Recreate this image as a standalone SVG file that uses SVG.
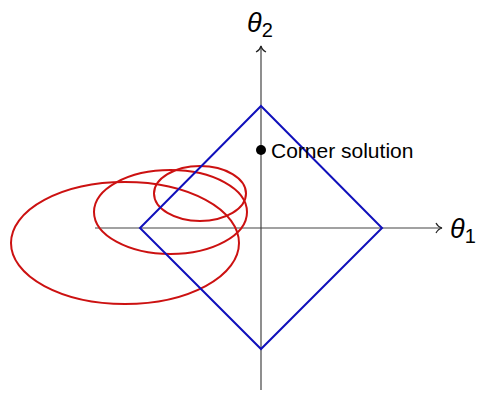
<svg xmlns="http://www.w3.org/2000/svg" width="477" height="393" viewBox="0 0 477 393">
<style>
.ax{stroke:#444;stroke-width:1.2;fill:none}
.ah{stroke:#222;stroke-width:1.2;fill:none}
.el{stroke:#cc1111;stroke-width:2;fill:none}
.dm{stroke:#1010bb;stroke-width:2;fill:none}
text{font-family:"Liberation Sans",Arial,sans-serif;fill:#000}
</style>
<rect width="477" height="393" fill="#fff"/>
<g id="connectors">
<line class="ax" x1="95" y1="228" x2="442" y2="228"/>
<path class="ah" d="M436,223 Q438,227 442,228 Q438,229 436,233"/>
<line class="ax" x1="261" y1="390" x2="261" y2="46"/>
<path class="ah" d="M256,52 Q260,50 261,46 Q262,50 266,52"/>
</g>
<g id="ellipses">
<ellipse class="el" cx="125" cy="243" rx="114" ry="61"/>
<ellipse class="el" cx="170.5" cy="212" rx="76.5" ry="42"/>
<ellipse class="el" cx="200" cy="193.5" rx="46" ry="27.5"/>
</g>
<g id="diamond">
<polygon class="dm" points="261,106 382,228 261,349 140,228"/>
</g>
<g id="corner">
<circle cx="261" cy="150" r="5" fill="#000"/>
<text x="271" y="158" font-size="21">Corner solution</text>
</g>
<g id="labels">
<text x="247" y="32" font-size="27" font-style="italic">θ<tspan font-style="normal" font-size="20" dy="5">2</tspan></text>
<text x="450" y="238" font-size="27" font-style="italic">θ<tspan font-style="normal" font-size="20" dy="5">1</tspan></text>
</g>
</svg>
